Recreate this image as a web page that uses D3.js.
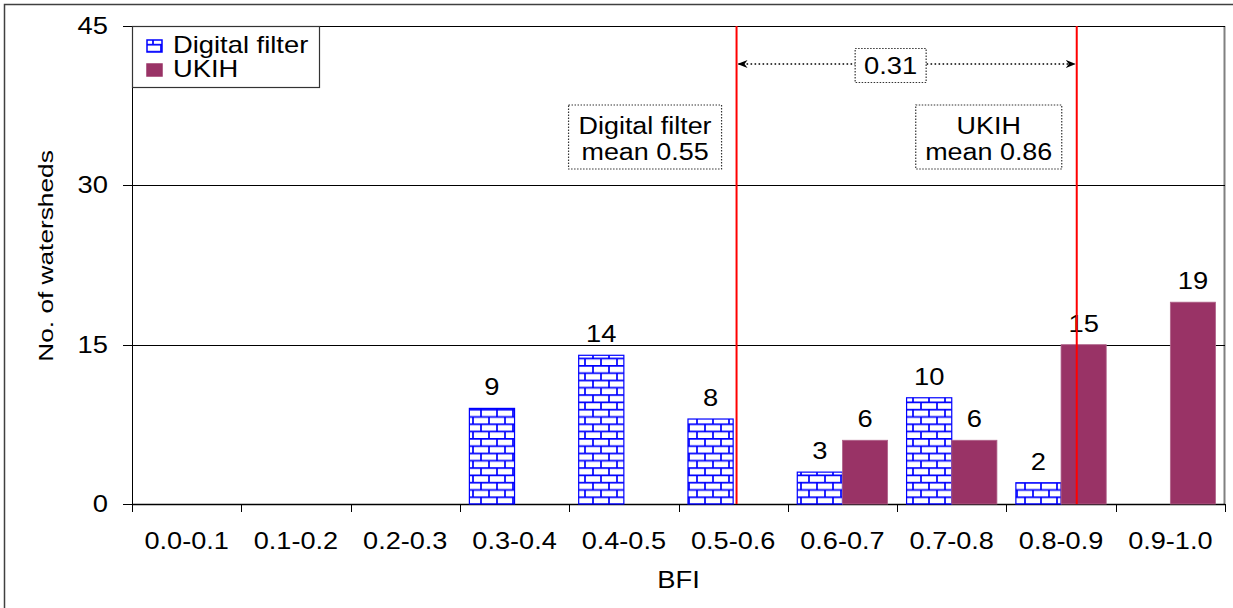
<!DOCTYPE html>
<html><head><meta charset="utf-8">
<script src="https://cdn.jsdelivr.net/npm/d3@7"></script>
<style>
body{margin:0;background:#fff;overflow:hidden}
text{font-family:"Liberation Sans",Arial,sans-serif;fill:#000}
</style>
</head><body>
<svg id="chart" width="1233" height="608"></svg>
<script>
// ---- data ----
const categories = ["0.0-0.1","0.1-0.2","0.2-0.3","0.3-0.4","0.4-0.5","0.5-0.6","0.6-0.7","0.7-0.8","0.8-0.9","0.9-1.0"];
const seriesNames = ["Digital filter","UKIH"];
const digitalFilter = [null,null,null,9,14,8,3,10,2,null];
const ukih = [null,null,null,null,null,null,6,6,15,19];
const yTicks = [0,15,30,45];
const meanValues = [0.55,0.86];
const meanLabels = [["Digital filter","mean 0.55"],["UKIH","mean 0.86"]];
const diffLabel = "0.31";
const xTitle = "BFI";
const yTitle = "No. of watersheds";

// ---- layout ----
const L = 132, R = 1225, T = 26, B = 504;
const svg = d3.select("#chart");

const x0 = d3.scaleBand().domain(categories).range([L, R]).paddingInner(0).paddingOuter(0);
const x1 = d3.scaleBand().domain(seriesNames).range([0, x0.bandwidth()]).paddingInner(0).paddingOuter(0.21);
const y = d3.scaleLinear().domain([0,45]).range([B, T]);
const bfi = d3.scaleLinear().domain([0,1]).range([L + 1, L + 1 + (R - L) * 1.004]);

function txt(g, x, yy, s, o = {}) {
  const size = o.size || 23, sx = o.sx || 1, rot = o.rot || 0;
  return g.append("text")
    .attr("transform", `translate(${x},${yy}) rotate(${rot}) scale(${sx},1)`)
    .attr("text-anchor", o.anchor || "middle")
    .attr("font-size", size)
    .text(s);
}

// pattern
const defs = svg.append("defs");
const pat = defs.append("pattern").attr("id","brick").attr("patternUnits","userSpaceOnUse")
  .attr("width",16).attr("height",14.6).attr("x",0).attr("y",0);
pat.append("rect").attr("width",16).attr("height",14.6).attr("fill","#fff");
pat.append("path").attr("d","M0,0.8H16M0,8.1H16M1,0V7.3M9,7.3V14.6")
  .attr("stroke","#0000ff").attr("stroke-width",1.7).attr("fill","none");

const mk = defs.append("marker").attr("id","arr").attr("viewBox","0 0 10 10")
  .attr("refX",9).attr("refY",5).attr("markerWidth",10).attr("markerHeight",10)
  .attr("markerUnits","userSpaceOnUse").attr("orient","auto-start-reverse");
mk.append("path").attr("d","M0,1L10,5L0,9L3,5Z").attr("fill","#000");

// outer border
svg.append("rect").attr("x",4.5).attr("y",4.5).attr("width",1250).attr("height",640)
  .attr("fill","none").attr("stroke","#404040").attr("stroke-width",1.5);

// plot border right (grey)
svg.append("line").attr("x1",R-0.5).attr("x2",R-0.5).attr("y1",T).attr("y2",B)
  .attr("stroke","#808080").attr("stroke-width",2);

// gridlines
svg.append("g").selectAll("line").data(yTicks.filter(d=>d>0)).join("line")
  .attr("x1",L).attr("x2",R).attr("y1",d=>Math.round(y(d))+0.5).attr("y2",d=>Math.round(y(d))+0.5)
  .attr("stroke","#000").attr("stroke-width",1);

// y axis
const gy = svg.append("g");
gy.append("line").attr("x1",L+0.5).attr("x2",L+0.5).attr("y1",T).attr("y2",B).attr("stroke","#000");
gy.selectAll(".tk").data(yTicks).join("line")
  .attr("x1",L-9).attr("x2",L).attr("y1",d=>Math.round(y(d))+0.5).attr("y2",d=>Math.round(y(d))+0.5).attr("stroke","#000");
yTicks.forEach(d => txt(gy, 108, y(d)+8, String(d), {anchor:"end", size:23, sx:1.19}));

// x axis
const gx = svg.append("g");
gx.append("line").attr("x1",L).attr("x2",R).attr("y1",B+0.5).attr("y2",B+0.5).attr("stroke","#000").attr("stroke-width",1.5);
const bounds = categories.map(c => x0(c)).concat([R]);
gx.selectAll(".tk").data(bounds).join("line")
  .attr("x1",d=>Math.round(d)+0.5).attr("x2",d=>Math.round(d)+0.5).attr("y1",B).attr("y2",B+8).attr("stroke","#000");
categories.forEach(c => txt(gx, x0(c)+x0.bandwidth()/2, 549, c, {size:24, sx:1.13}));
txt(svg, (L+R)/2, 588, xTitle, {size:23, sx:1.19});
txt(svg, 53, (T+B)/2 - 9, yTitle, {size:21, sx:1.25, rot:-90});

// bars
const rows = categories.map((c,i) => ({c, vals:[digitalFilter[i], ukih[i]]}));
const gb = svg.append("g");
rows.forEach(r => {
  r.vals.forEach((v,j) => {
    if (v == null) return;
    const s = seriesNames[j];
    const bx = x0(r.c) + x1(s);
    gb.append("rect").attr("x",bx).attr("y",y(v)).attr("width",x1.bandwidth()).attr("height",B - y(v))
      .attr("fill", j===0 ? "url(#brick)" : "#993366")
      .attr("stroke", j===0 ? "#0000ff" : "#b0648a").attr("stroke-width", j===0 ? 1.2 : 0.8);
    txt(gb, bx + x1.bandwidth()/2, y(v) - 13, String(v), {size:23, sx:1.19});
  });
});

// mean lines
const gm = svg.append("g");
meanValues.forEach(m => {
  gm.append("line").attr("x1",bfi(m)).attr("x2",bfi(m)).attr("y1",T).attr("y2",B)
    .attr("stroke","#ff0000").attr("stroke-width",2);
});

// mean boxes
meanValues.forEach((m,i) => {
  const g = svg.append("g");
  const xr = bfi(m) - 15;
  const bw = i===0 ? 153 : 146;
  const cx = xr - bw/2;
  g.append("rect").attr("x",xr-bw).attr("y",105).attr("width",bw).attr("height",64)
    .attr("fill","#fff").attr("stroke","#333").attr("stroke-width",1.2).attr("stroke-dasharray","1.5,1.5");
  txt(g, cx, 134, meanLabels[i][0], {size:23, sx:1.17});
  txt(g, cx, 160, meanLabels[i][1], {size:23, sx:1.17});
});

// difference arrow
const ay = 64;
svg.append("line").attr("x1",bfi(meanValues[0])+2).attr("x2",bfi(meanValues[1])-2).attr("y1",ay).attr("y2",ay)
  .attr("stroke","#000").attr("stroke-width",1.6).attr("stroke-dasharray","1.6,2.4")
  .attr("marker-start","url(#arr)").attr("marker-end","url(#arr)");
const dg = svg.append("g");
const dcx = (bfi(meanValues[0]) + bfi(meanValues[1]))/2 - 16;
dg.append("rect").attr("x",dcx-35.5).attr("y",48.5).attr("width",71).attr("height",34)
  .attr("fill","#fff").attr("stroke","#333").attr("stroke-width",1.2).attr("stroke-dasharray","1.5,1.5");
txt(dg, dcx, 74, diffLabel, {size:23, sx:1.19});

// legend
const lg = svg.append("g");
lg.append("rect").attr("x",L+0.5).attr("y",T+0.5).attr("width",187).attr("height",61)
  .attr("fill","#fff").attr("stroke","#333").attr("stroke-width",1.2);
seriesNames.forEach((s,i) => {
  const yy = 40 + i*24;
  lg.append("rect").attr("x",147).attr("y",yy).attr("width",15).attr("height",12)
    .attr("fill", i===0 ? "url(#brick)" : "#993366").attr("stroke", i===0 ? "#0000ff" : "#993366").attr("stroke-width",1.5);
  txt(lg, 173, yy + 13, s, {anchor:"start", size:23, sx:1.19});
});
</script>
</body></html>
